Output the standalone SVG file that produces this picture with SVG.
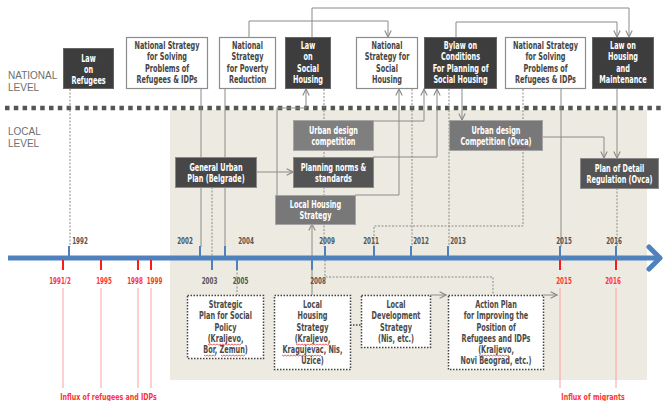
<svg xmlns="http://www.w3.org/2000/svg" width="663" height="401" viewBox="0 0 663 401">
<defs>
<marker id="arr" viewBox="0 0 10 10" refX="9" refY="5" markerWidth="8" markerHeight="8" markerUnits="userSpaceOnUse" orient="auto">
<path d="M1,1 L9,5 L1,9" fill="none" stroke="#8a8a8a" stroke-width="1.4"/>
</marker>
</defs>
<style>
text{font-family:"DejaVu Sans Condensed","DejaVu Sans",sans-serif;font-stretch:condensed;text-anchor:middle;font-size:9.8px;font-weight:bold;transform-box:fill-box;transform-origin:center;transform:scaleX(0.74)}
.w{fill:#ffffff}
.d{fill:#454545}
.b{fill:#4a4a4a}
.lvl{fill:#6e6e6e;text-anchor:start;font-weight:normal;font-size:10px;font-family:"Liberation Sans",Arial,sans-serif;transform:none}
.yr{fill:#555555;font-size:9.5px;transform:scaleX(0.66)}
.ry{fill:#ff3333;font-size:9.5px;transform:scaleX(0.66)}
.inf{fill:#ff3333;font-size:9.5px;transform:scaleX(0.74)}
.dark{fill:#3d3d3d;stroke:#666;stroke-width:1}
.wbox{fill:#ffffff;stroke:#8c8c8c;stroke-width:1.2}
.gbox{fill:#7f7f7f;stroke:#a5a5a5;stroke-width:1}
.mbox{fill:#545454;stroke:#8a8a8a;stroke-width:1}
.dbox{fill:#ffffff;stroke:#444;stroke-width:1.5;stroke-dasharray:1.5 1.5}
.c{fill:none;stroke:#8a8a8a;stroke-width:1}
.cd{fill:none;stroke:#8a8a8a;stroke-width:1;stroke-dasharray:2 1.5}
.tk{stroke:#4f81bd;stroke-width:2}
.rt{stroke:#ff1a1a;stroke-width:2}
.rl{stroke:#ffa0a0;stroke-width:1}
.sq{fill:none;stroke:#e02020;stroke-width:0.7}
</style>
<rect x="170" y="110" width="477" height="270" fill="#edebe1"/>
<line x1="5" y1="108" x2="663" y2="108" stroke="#555" stroke-width="4.5" stroke-dasharray="4.5 4.3"/>
<text class="lvl" x="8" y="79">NATIONAL</text>
<text class="lvl" x="8" y="91">LEVEL</text>
<text class="lvl" x="8" y="135">LOCAL</text>
<text class="lvl" x="8" y="147">LEVEL</text>

<g id="connectors">
<path class="cd" d="M70,89 V247"/>
<path class="c" d="M201,89 V247"/>
<path class="c" d="M225,89 V247"/>
<path class="cd" d="M212,187 V261"/>
<path class="cd" d="M324,89 V247"/>
<path class="cd" d="M412,89 V247"/>
<path class="cd" d="M449,89 V247"/>
<path class="cd" d="M523,89 V226 H374 V247"/>
<path class="c" d="M561,89 V247"/>
<path class="c" d="M617,89 V158" marker-end="url(#arr)"/>
<path class="cd" d="M617,188 V247"/>
<path class="c" d="M542,137 H604 V158" marker-end="url(#arr)"/>
<path class="c" d="M462,89 V120" marker-end="url(#arr)"/>
<path class="c" d="M373,121 H424 V89" marker-end="url(#arr)"/>
<path class="c" d="M373,157 H437 V89" marker-end="url(#arr)"/>
<path class="c" d="M355,195 H399 V89" marker-end="url(#arr)"/>
<path class="c" d="M277,195 V108 H306 V89" marker-end="url(#arr)"/>
<path class="c" d="M256,172 H293" marker-end="url(#arr)"/>
<path class="c" d="M312,295 V224" marker-end="url(#arr)"/>
<path class="cd" d="M237,262 V295"/>
<path class="cd" d="M325,260 V277 H493 V295"/>
<path class="dbox" d="M350,325 H361"/>
<path class="c" d="M430,295 H446" marker-end="url(#arr)"/>
<path class="c" d="M543,295 H557" marker-end="url(#arr)"/>
<path class="c" d="M249,37 V21 H388 V37" marker-end="url(#arr)"/>
<path class="c" d="M312,37 V8 H629 V37" marker-end="url(#arr)"/>
<path class="c" d="M456,37 V22 H617 V37" marker-end="url(#arr)"/>
</g>

<g id="timeline">
<line x1="8" y1="258" x2="657" y2="258" stroke="#4f81bd" stroke-width="5"/>
<polyline points="649,247 660,258 649,269" fill="none" stroke="#4f81bd" stroke-width="5" stroke-linecap="round" stroke-linejoin="round"/>
<g class="tk">
<line x1="69" y1="246" x2="69" y2="256"/>
<line x1="200" y1="246" x2="200" y2="256"/>
<line x1="225" y1="246" x2="225" y2="256"/>
<line x1="325" y1="246" x2="325" y2="256"/>
<line x1="374" y1="246" x2="374" y2="256"/>
<line x1="411" y1="246" x2="411" y2="256"/>
<line x1="448" y1="246" x2="448" y2="256"/>
<line x1="560" y1="246" x2="560" y2="256"/>
<line x1="616" y1="246" x2="616" y2="256"/>
<line x1="212" y1="260" x2="212" y2="270"/>
<line x1="237" y1="260" x2="237" y2="270"/>
<line x1="312" y1="260" x2="312" y2="270"/>
</g>
<g class="rt">
<line x1="63" y1="260" x2="63" y2="270"/>
<line x1="101" y1="260" x2="101" y2="270"/>
<line x1="138" y1="260" x2="138" y2="270"/>
<line x1="151" y1="260" x2="151" y2="270"/>
<line x1="560" y1="260" x2="560" y2="270"/>
<line x1="616" y1="260" x2="616" y2="270"/>
</g>
<g class="rl">
<line x1="63" y1="288" x2="63" y2="388"/>
<line x1="101" y1="288" x2="101" y2="388"/>
<line x1="138" y1="288" x2="138" y2="388"/>
<line x1="151" y1="288" x2="151" y2="388"/>
<line x1="560" y1="288" x2="560" y2="388"/>
<line x1="616" y1="288" x2="616" y2="388"/>
</g>
<text class="yr" x="80" y="244">1992</text>
<text class="yr" x="185" y="244">2002</text>
<text class="yr" x="246" y="244">2004</text>
<text class="yr" x="327" y="244">2009</text>
<text class="yr" x="371" y="244">2011</text>
<text class="yr" x="421" y="244">2012</text>
<text class="yr" x="458" y="244">2013</text>
<text class="yr" x="564" y="244">2015</text>
<text class="yr" x="614" y="244">2016</text>
<text class="yr" x="209.5" y="284">2003</text>
<text class="yr" x="240.5" y="284">2005</text>
<text class="yr" x="318" y="284">2008</text>
<text class="ry" x="60" y="284">1991/2</text>
<text class="ry" x="104" y="284">1995</text>
<text class="ry" x="135" y="284">1998</text>
<text class="ry" x="154.5" y="284">1999</text>
<text class="ry" x="564" y="284">2015</text>
<text class="ry" x="613" y="284">2016</text>
<text class="inf" x="108.5" y="400">Influx of refugees  and IDPs</text>
<text class="inf" x="593" y="400">Influx of  migrants</text>
</g>

<g id="law-refugees"><rect class="dark" x="63.5" y="48.5" width="50" height="40"/>
<text class="w" x="88.5" y="62">Law</text><text class="w" x="88.5" y="73">on</text><text class="w" x="88.5" y="84">Refugees</text></g>
<g id="ns-refugees-1"><rect class="wbox" x="126.5" y="37.5" width="81" height="51"/>
<text class="d" x="167" y="49">National  Strategy</text><text class="d" x="167" y="60">for Solving</text><text class="d" x="167" y="72">Problems of</text><text class="d" x="167" y="83">Refugees &amp;  IDPs</text></g>
<g id="ns-poverty"><rect class="wbox" x="219.5" y="37.5" width="56" height="51"/>
<text class="d" x="247.5" y="49">National</text><text class="d" x="247.5" y="60">Strategy</text><text class="d" x="247.5" y="72">for Poverty</text><text class="d" x="247.5" y="83">Reduction</text></g>
<g id="law-social-housing"><rect class="dark" x="285.5" y="37.5" width="45" height="51"/>
<text class="w" x="308" y="49">Law</text><text class="w" x="308" y="60">on</text><text class="w" x="308" y="72">Social</text><text class="w" x="308" y="83">Housing</text></g>
<g id="ns-social-housing"><rect class="wbox" x="356.5" y="37.5" width="61" height="51"/>
<text class="d" x="387" y="49">National</text><text class="d" x="387" y="60">Strategy  for</text><text class="d" x="387" y="72">Social</text><text class="d" x="387" y="83">Housing</text></g>
<g id="bylaw"><rect class="dark" x="424.5" y="37.5" width="72" height="51"/>
<text class="w" x="460.5" y="49">Bylaw  on</text><text class="w" x="460.5" y="60">Conditions</text><text class="w" x="460.5" y="72">For Planning of</text><text class="w" x="460.5" y="83">Social  Housing</text></g>
<g id="ns-refugees-2"><rect class="wbox" x="505.5" y="37.5" width="80" height="51"/>
<text class="d" x="545.5" y="49">National  Strategy</text><text class="d" x="545.5" y="60">for Solving</text><text class="d" x="545.5" y="72">Problems of</text><text class="d" x="545.5" y="83">Refugees &amp; IDPs</text></g>
<g id="law-housing"><rect class="dark" x="592.5" y="37.5" width="61" height="51"/>
<text class="w" x="623" y="49">Law on</text><text class="w" x="623" y="60">Housing</text><text class="w" x="623" y="72">and</text><text class="w" x="623" y="83">Maintenance</text></g>

<g id="urban-design"><rect class="gbox" x="293.5" y="120.5" width="80" height="30"/>
<text class="w" x="333.5" y="134">Urban design</text><text class="w" x="333.5" y="145">competition</text></g>
<g id="planning-norms"><rect class="mbox" x="293.5" y="157.5" width="80" height="30"/>
<text class="w" x="333.5" y="171">Planning norms &amp;</text><text class="w" x="333.5" y="182">standards</text></g>
<g id="gup"><rect class="mbox" x="175.5" y="157.5" width="81" height="30" style="fill:#474747"/>
<text class="w" x="216" y="171">General  Urban</text><text class="w" x="216" y="182">Plan (Belgrade)</text></g>
<g id="local-housing-strategy"><rect class="gbox" x="275.5" y="195.5" width="80" height="29" style="fill:#787878"/>
<text class="w" x="315.5" y="208">Local Housing</text><text class="w" x="315.5" y="219">Strategy</text></g>
<g id="urban-design-ovca"><rect class="gbox" x="449.5" y="120.5" width="93" height="30" style="fill:#787878"/>
<text class="w" x="496" y="134">Urban design</text><text class="w" x="496" y="145">Competition (Ovca)</text>
<path class="sq" d="M509,147 l1.5,1 l1.5,-1 l1.5,1 l1.5,-1 l1.5,1 l1.5,-1 l1.5,1 l1.5,-1 l1.5,1 l1.5,-1 l1.5,1 l1.5,-1"/></g>
<g id="plan-detail"><rect class="mbox" x="580.5" y="158.5" width="78" height="30"/>
<text class="w" x="619.5" y="172">Plan of Detail</text><text class="w" x="619.5" y="183">Regulation (Ovca)</text>
<path class="sq" d="M630,185 l1.5,1 l1.5,-1 l1.5,1 l1.5,-1 l1.5,1 l1.5,-1 l1.5,1 l1.5,-1 l1.5,1 l1.5,-1 l1.5,1 l1.5,-1"/></g>

<g id="strategic-plan"><rect class="dbox" x="187.5" y="295.5" width="76" height="63"/>
<text class="b" x="225.5" y="308">Strategic</text><text class="b" x="225.5" y="319">Plan for Social</text><text class="b" x="225.5" y="331">Policy</text><text class="b" x="225.5" y="342">(Kraljevo,</text><text class="b" x="225.5" y="353">Bor, Zemun)</text>
<path class="sq" d="M208,344 l1.5,1 l1.5,-1 l1.5,1 l1.5,-1 l1.5,1 l1.5,-1 l1.5,1 l1.5,-1 l1.5,1 l1.5,-1 l1.5,1 l1.5,-1 l1.5,1 l1.5,-1 l1.5,1 l1.5,-1 l1.5,1 l1.5,-1 l1.5,1 l1.5,-1 l1.5,1 l1.5,-1"/>
<path class="sq" d="M204,355 l1.5,1 l1.5,-1 l1.5,1 l1.5,-1 l1.5,1 l1.5,-1 l1.5,1 l1.5,-1"/>
<path class="sq" d="M221,355 l1.5,1 l1.5,-1 l1.5,1 l1.5,-1 l1.5,1 l1.5,-1 l1.5,1 l1.5,-1 l1.5,1 l1.5,-1 l1.5,1 l1.5,-1 l1.5,1 l1.5,-1 l1.5,1 l1.5,-1"/></g>
<g id="local-housing-box"><rect class="dbox" x="274.5" y="295.5" width="76" height="74"/>
<text class="b" x="312.5" y="308">Local</text><text class="b" x="312.5" y="319">Housing</text><text class="b" x="312.5" y="331">Strategy</text><text class="b" x="312.5" y="342">(Kraljevo,</text><text class="b" x="312.5" y="353">Kragujevac, Nis,</text><text class="b" x="312.5" y="364">Uzice)</text>
<path class="sq" d="M296,344 l1.5,1 l1.5,-1 l1.5,1 l1.5,-1 l1.5,1 l1.5,-1 l1.5,1 l1.5,-1 l1.5,1 l1.5,-1 l1.5,1 l1.5,-1 l1.5,1 l1.5,-1 l1.5,1 l1.5,-1 l1.5,1 l1.5,-1 l1.5,1 l1.5,-1 l1.5,1 l1.5,-1"/>
<path class="sq" d="M282,355 l1.5,1 l1.5,-1 l1.5,1 l1.5,-1 l1.5,1 l1.5,-1 l1.5,1 l1.5,-1 l1.5,1 l1.5,-1 l1.5,1 l1.5,-1 l1.5,1 l1.5,-1 l1.5,1 l1.5,-1 l1.5,1 l1.5,-1 l1.5,1 l1.5,-1 l1.5,1 l1.5,-1 l1.5,1 l1.5,-1 l1.5,1 l1.5,-1"/></g>
<g id="local-development"><rect class="dbox" x="361.5" y="295.5" width="69" height="52"/>
<text class="b" x="396" y="308">Local</text><text class="b" x="396" y="319">Development</text><text class="b" x="396" y="331">Strategy</text><text class="b" x="396" y="342">(Nis, etc.)</text></g>
<g id="action-plan"><rect class="dbox" x="448.5" y="295.5" width="95" height="74"/>
<text class="b" x="496" y="308">Action Plan</text><text class="b" x="496" y="319">for Improving the</text><text class="b" x="496" y="331">Position of</text><text class="b" x="496" y="342">Refugees and IDPs</text><text class="b" x="496" y="353">(Kraljevo,</text><text class="b" x="496" y="364">Novi Beograd, etc.)</text>
<path class="sq" d="M479,355 l1.5,1 l1.5,-1 l1.5,1 l1.5,-1 l1.5,1 l1.5,-1 l1.5,1 l1.5,-1 l1.5,1 l1.5,-1 l1.5,1 l1.5,-1 l1.5,1 l1.5,-1 l1.5,1 l1.5,-1 l1.5,1 l1.5,-1 l1.5,1 l1.5,-1"/></g>
</svg>
